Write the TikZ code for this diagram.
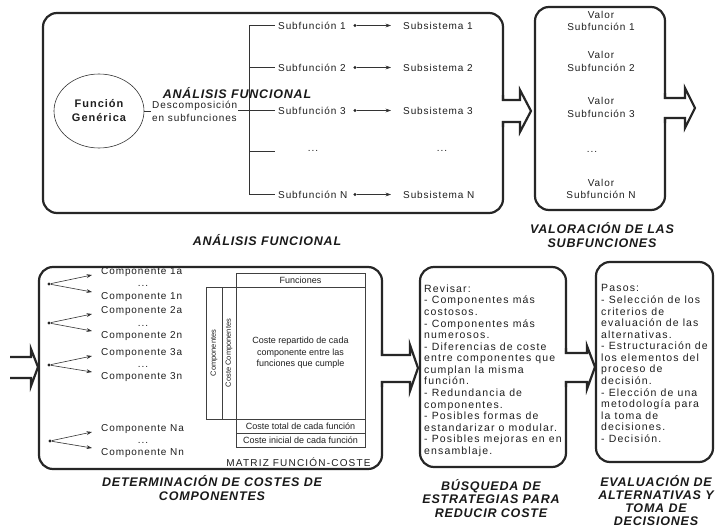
\documentclass[tikz,border=0pt]{standalone}
\usepackage{fontspec}
\setmainfont{Liberation Sans}[LetterSpace=9]
\newfontfamily\titlefont{Liberation Sans}[LetterSpace=6.5]
\newfontfamily\tightfont{Liberation Sans}
\newfontfamily\widefont{Liberation Sans}[LetterSpace=12]
\newfontfamily\parafont{Liberation Sans}[LetterSpace=11]
\usetikzlibrary{arrows.meta,shapes.geometric}
\begin{document}
\begin{tikzpicture}[x=1pt,y=-1pt,
  bigbox/.style={draw=black!85, line width=2.2pt, rounded corners=14pt, inner sep=0pt},
  fat/.style={draw=black!85, line width=2.2pt, line join=miter},
  thinline/.style={draw=black!80, line width=0.6pt},
  thinarrow/.style={thinline, -{Stealth[length=5.5pt,width=3.8pt]}},
  dotnode/.style={circle, fill=black!85, inner sep=0pt, minimum size=3.4pt},
  lbl/.style={inner sep=0pt, text=black!88, font=\fontsize{10}{12.5}\selectfont},
  cell/.style={draw=black!75, line width=0.5pt, inner sep=0pt},
  small/.style={inner sep=0pt, text=black!88, font=\tightfont\fontsize{9}{11.5}\selectfont},
  title/.style={inner sep=0pt, text=black!90, align=center, font=\titlefont\bfseries\itshape\fontsize{12.5}{13.6}\selectfont},
  para/.style={inner sep=0pt, text=black!88, align=left, anchor=north west, font=\parafont\fontsize{10.5}{11.57}\selectfont}
]
\fill[white] (0,0) rectangle (715,527);
\useasboundingbox (0,0) rectangle (715,527);

% ---------- boxes ----------
\node[bigbox, minimum width=460pt, minimum height=200pt] (A) at (273,113) {};
\node[bigbox, minimum width=130pt, minimum height=203pt] (V) at (600,108.5) {};
\node[bigbox, minimum width=343pt, minimum height=202pt] (D) at (210.5,368) {};
\node[bigbox, minimum width=146pt, minimum height=200pt] (B) at (493,367) {};
\node[bigbox, minimum width=117pt, minimum height=200pt] (E) at (654.5,362) {};

% ---------- fat arrows ----------
\fill[white] (501,101.1) rectangle (505,120.9);
\draw[fat] (503,95) -- (503,100) -- (520,100) -- (520,90) -- (531,111) -- (520,132) -- (520,122) -- (503,122) -- (503,127);
\fill[white] (663,99.1) rectangle (667,116.9);
\draw[fat] (665,93) -- (665,98) -- (685,98) -- (685,88) -- (695,108) -- (685,128) -- (685,118) -- (665,118) -- (665,123);
\draw[fat] (10,357) -- (31,357) -- (31,349) -- (38,367) -- (31,386) -- (31,378) -- (10,378);
\fill[white] (380,356.1) rectangle (384,380.9);
\draw[fat] (382,350) -- (382,355) -- (410,355) -- (410,345) -- (418,368) -- (410,391) -- (410,382) -- (382,382) -- (382,387);
\fill[white] (564,354.1) rectangle (568,380.9);
\draw[fat] (566,348) -- (566,353) -- (587,353) -- (587,346) -- (595,367) -- (587,389) -- (587,382) -- (566,382) -- (566,387);

% ---------- Analisis funcional ----------
\node[ellipse, draw=black!80, line width=0.6pt, minimum width=90pt, minimum height=74pt, inner sep=0pt,
      align=center, text=black!88, font=\bfseries\fontsize{11}{14}\selectfont] (fg) at (99,111) {Función\\Genérica};
\node[lbl, align=left, anchor=west, inner sep=1pt, font=\fontsize{10}{13}\selectfont] (desc) at (151,111) {Descomposición\\en subfunciones};
\draw[thinline] (fg.east) -- (desc.west);
\coordinate (br) at (249,110.5);
\draw[thinline] (desc.east |- br) -- (br);

\node[lbl, anchor=west] (sf1) at (278,25.5) {Subfunción 1};
\node[lbl, anchor=west] (sf2) at (278,67.5) {Subfunción 2};
\node[lbl, anchor=west] (sf3) at (278,110.5) {Subfunción 3};
\coordinate (sfd) at (275,151);
\node[lbl] (sfdots) at (313,151) {...};
\node[lbl, anchor=west] (sfn) at (278,194.5) {Subfunción N};

\draw[thinline] (br |- sf1) -- (br |- sfn);
\draw[thinline] (br |- sf1) -- ([xshift=-3pt]sf1.west);
\draw[thinline] (br |- sf2) -- ([xshift=-3pt]sf2.west);
\draw[thinline] (br |- sf3) -- ([xshift=-3pt]sf3.west);
\draw[thinline] (br |- sfd) -- (sfd);
\draw[thinline] (br |- sfn) -- ([xshift=-3pt]sfn.west);

\node[dotnode] (d1) at (355,25.5) {};
\node[dotnode] (d2) at (355,67.5) {};
\node[dotnode] (d3) at (355,110.5) {};
\node[dotnode] (dn) at (355,194.5) {};

\node[lbl, anchor=west] (ss1) at (403,25.5) {Subsistema 1};
\node[lbl, anchor=west] (ss2) at (403,67.5) {Subsistema 2};
\node[lbl, anchor=west] (ss3) at (403,110.5) {Subsistema 3};
\node[lbl] (ssdots) at (442,151) {...};
\node[lbl, anchor=west] (ssn) at (403,194.5) {Subsistema N};

\draw[thinarrow] (d1) -- ([xshift=-12pt]ss1.west);
\draw[thinarrow] (d2) -- ([xshift=-12pt]ss2.west);
\draw[thinarrow] (d3) -- ([xshift=-12pt]ss3.west);
\draw[thinarrow] (dn) -- ([xshift=-12pt]ssn.west);

\node[title] (tAin) at (237,93) {ANÁLISIS FUNCIONAL};
\node[title] (tA) at (267,240) {ANÁLISIS FUNCIONAL};

% ---------- Valoracion ----------
\node[lbl, align=center] (v1) at (601,21) {Valor\\Subfunción 1};
\node[lbl, align=center] (v2) at (601,61.5) {Valor\\Subfunción 2};
\node[lbl, align=center] (v3) at (601,107.5) {Valor\\Subfunción 3};
\node[lbl] (vd) at (592,152) {...};
\node[lbl, align=center] (vn) at (601,189) {Valor\\Subfunción N};
\node[title] (tV) at (602,235) {VALORACIÓN DE LAS\\SUBFUNCIONES};

% ---------- Determinacion de costes ----------
\node[lbl, anchor=west] (c1a) at (101,272) {Componente 1a};
\node[lbl] (c1d) at (143,286) {...};
\node[lbl, anchor=west] (c1n) at (101,297) {Componente 1n};
\node[dotnode] (g1) at (49,284) {};
\draw[thinarrow] (g1) -- ([xshift=-9pt,yshift=-3pt]c1a.west);
\draw[thinarrow] (g1) -- ([xshift=-9pt,yshift=5pt]c1n.west);

\node[lbl, anchor=west] (c2a) at (101,311) {Componente 2a};
\node[lbl] (c2d) at (143,325.5) {...};
\node[lbl, anchor=west] (c2n) at (101,336) {Componente 2n};
\node[dotnode] (g2) at (49,323) {};
\draw[thinarrow] (g2) -- ([xshift=-9pt,yshift=-3pt]c2a.west);
\draw[thinarrow] (g2) -- ([xshift=-9pt,yshift=5pt]c2n.west);

\node[lbl, anchor=west] (c3a) at (101,353) {Componente 3a};
\node[lbl] (c3d) at (143,367) {...};
\node[lbl, anchor=west] (c3n) at (101,377) {Componente 3n};
\node[dotnode] (g3) at (49,365) {};
\draw[thinarrow] (g3) -- ([xshift=-9pt,yshift=-3pt]c3a.west);
\draw[thinarrow] (g3) -- ([xshift=-9pt,yshift=5pt]c3n.west);

\node[lbl, anchor=west] (cNa) at (101,429) {Componente Na};
\node[lbl] (cNd) at (143,443) {...};
\node[lbl, anchor=west] (cNn) at (101,453) {Componente Nn};
\node[dotnode] (gN) at (50,441) {};
\draw[thinarrow] (gN) -- ([xshift=-9pt,yshift=-3pt]cNa.west);
\draw[thinarrow] (gN) -- ([xshift=-9pt,yshift=5pt]cNn.west);

% matrix
\node[cell, minimum width=129pt, minimum height=14pt] (mf) at (300.5,280) {};
\node[small] at (mf) {Funciones};
\node[cell, minimum width=129pt, minimum height=132pt] (mm) at (300.5,353) {};
\node[small, align=center] at (mm) {Coste repartido de cada\\componente entre las\\funciones que cumple};
\node[cell, minimum width=129pt, minimum height=14pt] (mt) at (300.5,426) {};
\node[small] at (mt) {Coste total de cada función};
\node[cell, minimum width=129pt, minimum height=14pt] (mi) at (300.5,440) {};
\node[small] at (mi) {Coste inicial de cada función};
\node[cell, minimum width=16pt, minimum height=132pt] (mc1) at (214,353) {};
\node[small, rotate=90, font=\tightfont\fontsize{7.5}{9}\selectfont] at (mc1) {Componentes};
\node[cell, minimum width=14pt, minimum height=132pt] (mc2) at (229,353) {};
\node[small, rotate=90, font=\tightfont\fontsize{7.5}{9}\selectfont] at (mc2) {Coste Componentes};
\node[lbl, font=\widefont\fontsize{10}{12}\selectfont] (mtitle) at (298.5,462) {MATRIZ FUNCIÓN-COSTE};

\node[title] (tD) at (212,488) {DETERMINACIÓN DE COSTES DE\\COMPONENTES};

% ---------- Busqueda ----------
\node[para] (bt) at (424,284.5) {Revisar:\\- Componentes más\\costosos.\\- Componentes más\\numerosos.\\- Diferencias de coste\\entre componentes que\\cumplan la misma\\función.\\- Redundancia de\\componentes.\\- Posibles formas de\\estandarizar o modular.\\- Posibles mejoras en en\\ensamblaje.};
\node[title] (tB) at (491,498.5) {BÚSQUEDA DE\\ESTRATEGIAS PARA\\REDUCIR COSTE};

% ---------- Evaluacion ----------
\node[para] (et) at (601,284.5) {Pasos:\\- Selección de los\\criterios de\\evaluación de las\\alternativas.\\- Estructuración de\\los elementos del\\proceso de\\decisión.\\- Elección de una\\metodología para\\la toma de\\decisiones.\\- Decisión.};
\node[title, font=\titlefont\bfseries\itshape\fontsize{12.5}{13.2}\selectfont] (tE) at (656,500.5) {EVALUACIÓN DE\\ALTERNATIVAS Y\\TOMA DE\\DECISIONES};
\end{tikzpicture}
\end{document}
